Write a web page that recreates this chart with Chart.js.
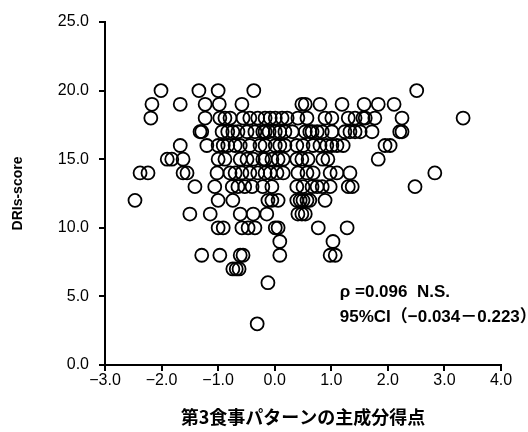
<!DOCTYPE html>
<html>
<head>
<meta charset="utf-8">
<script src="https://cdn.jsdelivr.net/npm/chart.js@4"></script>
<style>body{margin:0;background:#fff}</style>
</head>
<body>
<canvas id="scatter" width="528" height="432"></canvas>
<script>
// 第3食事パターンの主成分得点, grouped by DRIs-score
const score20 = [-2.01, -1.34, -1.00, -0.37, 2.51];
const score19 = [-2.17, -1.67, -1.23, -0.98, -0.58, 0.48, 0.54, 0.80, 1.19, 1.58, 1.83, 2.11];
const score18 = [-2.19, -1.23, -0.97, -0.88, -0.79, -0.56, -0.44, -0.30, -0.17, -0.08, 0.01, 0.13, 0.22, 0.41, 0.57, 0.89, 1.01, 1.30, 1.42, 1.56, 1.60, 1.77, 2.25, 3.33];
const score17 = [-1.32, -1.29, -0.93, -0.83, -0.74, -0.65, -0.49, -0.35, -0.21, -0.17, -0.10, 0.01, 0.09, 0.18, 0.31, 0.54, 0.62, 0.66, 0.75, 0.84, 1.01, 1.24, 1.33, 1.42, 1.51, 1.72, 2.21, 2.25];
const score16 = [-1.67, -1.20, -1.00, -0.91, -0.83, -0.70, -0.61, -0.44, -0.26, -0.17, 0.01, 0.09, 0.18, 0.39, 0.50, 0.68, 0.80, 0.92, 1.01, 1.10, 1.21, 1.95, 2.04];
const score15 = [-1.90, -1.82, -1.62, -1.00, -0.88, -0.61, -0.49, -0.38, -0.21, -0.17, -0.05, 0.06, 0.15, 0.39, 0.48, 0.59, 0.85, 0.94, 1.83];
const score14 = [-2.38, -2.24, -1.62, -1.55, -1.02, -0.79, -0.70, -0.58, -0.44, -0.30, -0.17, -0.08, 0.04, 0.15, 0.41, 0.57, 0.68, 0.98, 1.10, 1.33, 2.83];
const score13 = [-1.41, -1.06, -0.75, -0.65, -0.53, -0.40, -0.21, -0.05, 0.39, 0.50, 0.66, 0.75, 0.84, 0.98, 1.30, 1.37, 2.48];
const score12 = [-2.47, -1.00, -0.74, -0.12, -0.05, 0.06, 0.39, 0.45, 0.50, 0.57, 0.62, 0.89];
const score11 = [-1.50, -1.14, -0.61, -0.38, -0.14, 0.41, 0.48, 0.54];
const score10 = [-1.00, -0.91, -0.58, -0.47, -0.35, 0.01, 0.06, 0.77, 1.28];
const score9 = [0.09, 1.03];
const score8 = [-1.29, -0.97, -0.61, -0.56, 0.09, 0.98, 1.07];
const score7 = [-0.74, -0.68, -0.63];
const score6 = [-0.12];
const score3 = [-0.31];

const xTicks = [-3, -2, -1, 0, 1, 2, 3, 4];
const yTicks = [0, 5, 10, 15, 20, 25];
const statLines = ['ρ =0.096  N.S.', '95%CI\uFF08\u22120.034\uFF0D0.223\uFF09'];

const rows = [
    [20, score20], [19, score19], [18, score18], [17, score17], [16, score16],
    [15, score15], [14, score14], [13, score13], [12, score12], [11, score11],
    [10, score10], [9, score9], [8, score8], [7, score7], [6, score6], [3, score3]
];
const points = [];
rows.forEach(function (r) {
    r[1].forEach(function (x) { points.push({ x: x, y: r[0] }); });
});

function fmt(v) {
    return v < 0 ? '\u2212' + Math.abs(v).toFixed(1) : v.toFixed(1);
}

// ρ と 95%CI の注記
const statText = {
    id: 'statText',
    afterDraw: function (chart) {
        const ctx = chart.ctx;
        const xs = chart.scales.x, ys = chart.scales.y;
        ctx.save();
        ctx.font = 'bold 17px "Liberation Sans", "Noto Sans CJK JP"';
        ctx.fillStyle = '#000';
        ctx.textBaseline = 'middle';
        ctx.fillText(statLines[0], xs.getPixelForValue(1.15), ys.getPixelForValue(5.3));
        ctx.fillText(statLines[1], xs.getPixelForValue(1.15), ys.getPixelForValue(3.5));
        ctx.restore();
    }
};

const tickFont = { family: '"Liberation Sans", Arial', size: 16 };

new Chart(document.getElementById('scatter'), {
    type: 'scatter',
    data: {
        datasets: [{
            data: points,
            backgroundColor: 'rgba(0,0,0,0)',
            borderColor: '#000',
            borderWidth: 1.8,
            pointRadius: 6.5
        }]
    },
    options: {
        responsive: false,
        animation: false,
        devicePixelRatio: 1,
        layout: { padding: { top: 22, right: 27, left: 0, bottom: 0 } },
        plugins: { legend: { display: false }, tooltip: { enabled: false } },
        scales: {
            x: {
                min: xTicks[0],
                max: xTicks[xTicks.length - 1],
                afterBuildTicks: function (s) { s.ticks = xTicks.map(function (v) { return { value: v }; }); },
                afterFit: function (s) { s.height = 67; },
                ticks: { callback: fmt, color: '#000', font: tickFont, padding: 0, maxRotation: 0 },
                grid: { drawOnChartArea: false, color: '#000', lineWidth: 2, tickLength: 6 },
                border: { color: '#000', width: 2 },
                title: {
                    display: true,
                    text: '第3食事パターンの主成分得点',
                    color: '#000',
                    font: { family: '"Noto Sans CJK JP"', size: 18, weight: 'bold' },
                    padding: { top: 0, bottom: 4 }
                }
            },
            y: {
                min: yTicks[0],
                max: yTicks[yTicks.length - 1],
                afterBuildTicks: function (s) { s.ticks = yTicks.map(function (v) { return { value: v }; }); },
                afterFit: function (s) { s.width = 105; },
                ticks: { callback: fmt, color: '#000', font: tickFont, padding: 10 },
                grid: { drawOnChartArea: false, color: '#000', lineWidth: 2, tickLength: 6 },
                border: { color: '#000', width: 2 },
                title: {
                    display: true,
                    text: 'DRIs-score',
                    color: '#000',
                    font: { family: '"Liberation Sans", Arial', size: 14, weight: 'bold' },
                    padding: { top: 10, bottom: 0 }
                }
            }
        }
    },
    plugins: [statText]
});
</script>
</body>
</html>
